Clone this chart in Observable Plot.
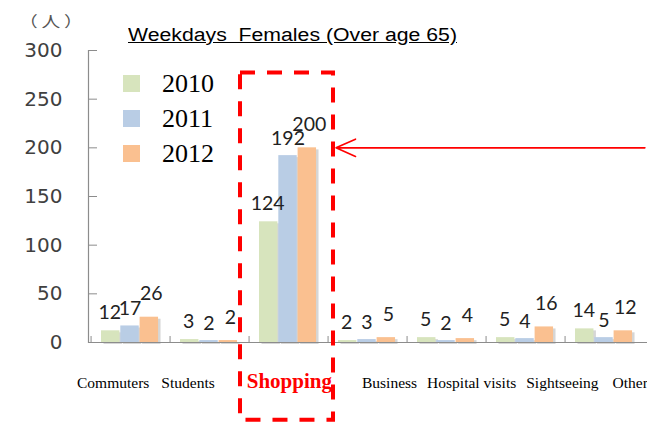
<!DOCTYPE html>
<html><head><meta charset="utf-8">
<script src="https://cdn.jsdelivr.net/npm/d3@7"></script>
<script src="https://cdn.jsdelivr.net/npm/@observablehq/plot@0.6"></script>
<style>
body{margin:0;background:#fff;}
#wrap{position:relative;width:647px;height:422px;overflow:hidden;background:#fff;}
#chart{position:absolute;left:0;top:0;}
.title{position:absolute;left:128px;top:26px;font:18px "Liberation Sans",Arial,sans-serif;text-decoration:underline;transform:scaleX(1.18);transform-origin:0 0;white-space:pre;color:#000;line-height:1;}
.unit{position:absolute;left:19px;top:13px;font:15px "Noto Sans CJK JP",sans-serif;color:#555;line-height:1;letter-spacing:3px;transform:scaleX(1.25);transform-origin:0 0;white-space:pre;}
.legend{position:absolute;left:123px;top:66px;}
.legend .row{display:flex;align-items:center;height:35px;}
.legend .sw{width:17px;height:17px;margin-right:22px;}
.legend .lab{font:26px "Liberation Serif","Times New Roman",serif;color:#000;line-height:1;}
.xlabels{position:absolute;left:77px;top:371px;font:15.5px "Liberation Serif","Times New Roman",serif;white-space:nowrap;line-height:1;color:#000;}
.xlabels .hl{font-weight:bold;font-size:21px;color:#f00;}
</style>
</head><body>
<div id="wrap">
  <div id="chart"></div>
  <div class="unit" id="unit"></div>
  <div class="title" id="title"></div>
  <div class="legend" id="legend"></div>
  <div class="xlabels" id="xlabels"></div>
</div>
<script>
const categories = ["Commuters","Students","Shopping","Business","Hospital visits","Sightseeing","Other"];
const years = ["2010","2011","2012"];
const values2010 = [12, 3, 124, 2, 5, 5, 14];
const values2011 = [17, 2, 192, 3, 2, 4, 5];
const values2012 = [26, 2, 200, 5, 4, 16, 12];
const yTicks = [0, 50, 100, 150, 200, 250, 300];
const colors = ["#d7e4bd", "#b9cde5", "#fac090"];
const unitLabel = "（人）";
const titleText = "Weekdays  Females (Over age 65)";
const highlighted = "Shopping";
const highlightBox = {category: highlighted, bottom: -80, top: 277};

const series = [values2010, values2011, values2012];
const data = years.flatMap((yr, i) => categories.map((c, j) => ({category: c, year: yr, value: series[i][j]})));

const W = 647, H = 422, ML = 88, MR = 0, MT = 50, MB = 80;
const bw = (W - ML - MR) / categories.length;
const pad = 10, barW = 19.3;
const labelShift = [-1, 0, 2];
const labelLift = [-12, -11, -17];

const marks = [];
// shadows
years.forEach((yr, i) => {
  const rows = data.filter(d => d.year === yr);
  const il = pad + i * barW, ir = bw - pad - (i + 1) * barW;
  marks.push(Plot.barY(rows, {x: "category", y: "value", fill: "#000", fillOpacity: 0.16, insetLeft: il, insetRight: ir, dx: 2.5, dy: 2}));
});
years.forEach((yr, i) => {
  const rows = data.filter(d => d.year === yr);
  const il = pad + i * barW, ir = bw - pad - (i + 1) * barW;
  marks.push(Plot.barY(rows, {x: "category", y: "value", fill: "year", insetLeft: il, insetRight: ir}));
});
marks.push(Plot.ruleY([0], {stroke: "#8c8c8c", strokeWidth: 1.2}));
marks.push(Plot.frame({anchor: "left", stroke: "#8c8c8c", strokeWidth: 1.2}));
marks.push(Plot.axisY(yTicks, {tickSize: -9, tickPadding: 35, stroke: "#8c8c8c", fill: "#404040", fontSize: 20, fontFamily: "DejaVu Sans", label: null}));
marks.push(Plot.axisX({tickSize: -6, tickFormat: () => "", dx: -bw / 2, stroke: "#8c8c8c", label: null}));
years.forEach((yr, i) => {
  const rows = data.filter(d => d.year === yr);
  const cx = pad + (i + 0.5) * barW - bw / 2 + labelShift[i];
  marks.push(Plot.text(rows, {x: "category", y: "value", text: d => String(d.value), dx: cx, dy: labelLift[i], lineAnchor: "bottom", fontSize: 19.5, fontFamily: "Lato", fill: "#222"}));
});
marks.push(Plot.barY([highlightBox], {x: "category", y1: "bottom", y2: "top", fill: "none", stroke: "#ff0000", strokeWidth: 4, strokeDasharray: "15,12", insetLeft: -9, insetRight: -5}));
const arrow = {from: categories[categories.length - 1], to: highlighted, value: d3.max(data, d => d.value)};
marks.push(Plot.arrow([arrow], {x1: "from", x2: "to", y1: "value", y2: "value", stroke: "#ff0000", strokeWidth: 1.6, headLength: 20, headAngle: 48, insetStart: -(W - MR - (ML + bw * 6.5)), insetEnd: 47}));

const chart = Plot.plot({
  width: W, height: H, marginLeft: ML, marginRight: MR, marginTop: MT, marginBottom: MB,
  style: {background: "transparent", overflow: "visible"},
  x: {type: "band", domain: categories, padding: 0},
  y: {domain: [0, 300]},
  color: {domain: years, range: colors},
  marks
});
document.getElementById("chart").appendChild(chart);

document.getElementById("unit").textContent = unitLabel;
document.getElementById("title").textContent = titleText;
const legend = document.getElementById("legend");
years.forEach((yr, i) => {
  const row = document.createElement("div"); row.className = "row";
  const sw = document.createElement("div"); sw.className = "sw"; sw.style.background = colors[i];
  const lab = document.createElement("div"); lab.className = "lab"; lab.textContent = yr;
  row.appendChild(sw); row.appendChild(lab); legend.appendChild(row);
});
const gaps = [0, 12, 32, 30, 10, 10, 14];
const xl = document.getElementById("xlabels");
categories.forEach((c, i) => {
  const s = document.createElement("span");
  s.textContent = c;
  s.style.marginLeft = gaps[i] + "px";
  if (c === highlighted) s.className = "hl";
  xl.appendChild(s);
});
</script>
</body></html>
